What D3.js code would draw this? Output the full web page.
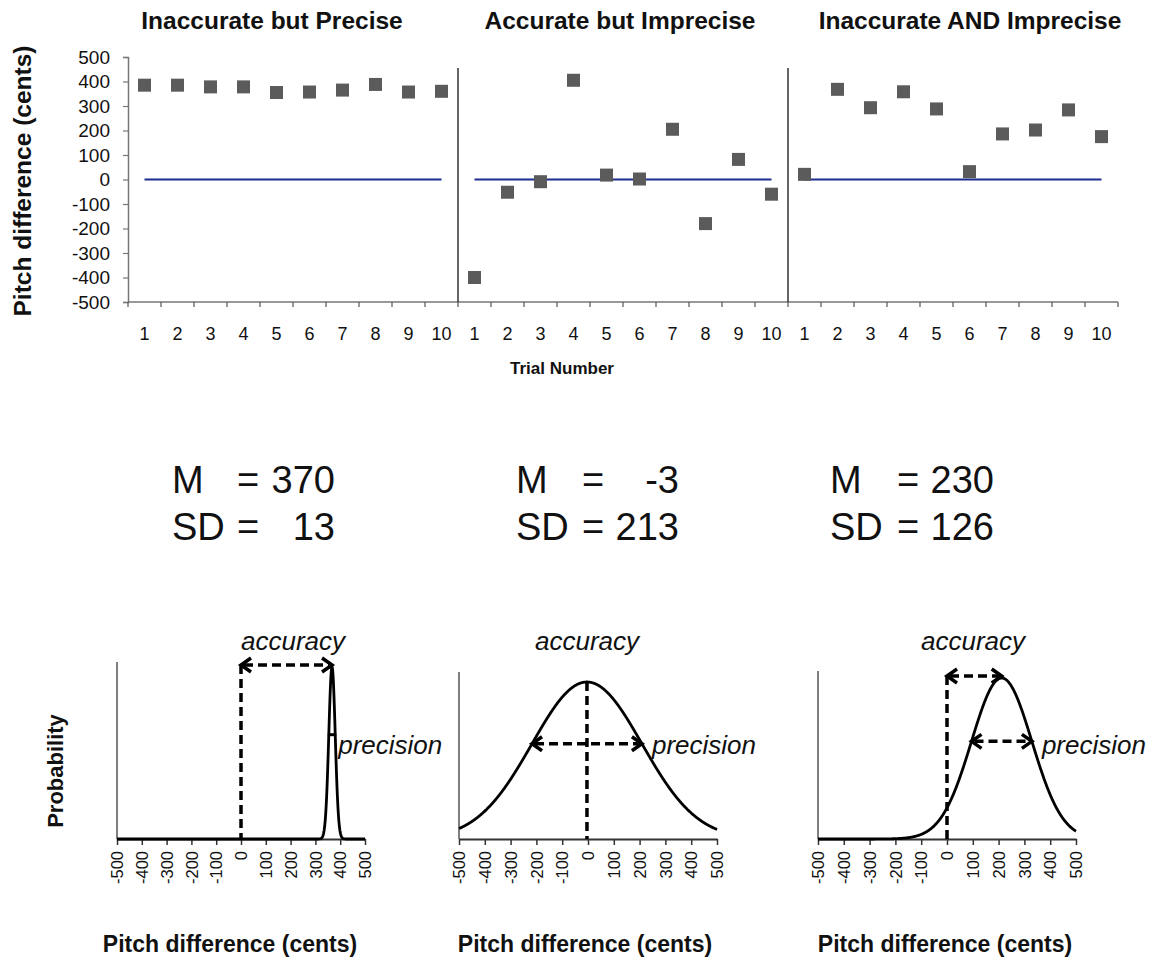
<!DOCTYPE html>
<html><head><meta charset="utf-8">
<script src="https://cdn.jsdelivr.net/npm/d3@7"></script>
<style>
body{margin:0;background:#fff}
text{font-family:"Liberation Sans",Arial,Helvetica,sans-serif;fill:#111}
</style>
</head><body>
<svg id="c" width="1151" height="963"></svg>
<script>
// ---------------- DATA ----------------
const panelTitles = ["Inaccurate but Precise", "Accurate but Imprecise", "Inaccurate AND Imprecise"];
const trials = [1, 2, 3, 4, 5, 6, 7, 8, 9, 10];
const precisePitch = [385, 385, 378, 378, 355, 357, 365, 388, 357, 360];
const accuratePitch = [-400, -52, -9, 405, 18, 2, 205, -180, 82, -60];
const inaccuratePitch = [21, 368, 293, 358, 288, 32, 186, 202, 284, 175];
const pitchTicksY = [500, 400, 300, 200, 100, 0, -100, -200, -300, -400, -500];
const meanLabels = ["370", "-3", "230"];
const sdLabels = ["13", "213", "126"];
const curveMean = [367, -4, 212];
const curveSD = [13, 213, 117];
const pitchTicksX = [-500, -400, -300, -200, -100, 0, 100, 200, 300, 400, 500];

const series = [precisePitch, accuratePitch, inaccuratePitch];

// ---------------- LAYOUT ----------------
const svg = d3.select("#c");
const topBox = {x0: 128, x1: 1118, y0: 302, y1: 57};
const keys = [];
series.forEach((s, p) => trials.forEach(t => keys.push(p + "-" + t)));
const x = d3.scaleBand().domain(keys).range([topBox.x0, topBox.x1]).padding(0);
const y = d3.scaleLinear().domain([-500, 500]).range([topBox.y0, topBox.y1]);
const fmt = d => String(d);

// titles
const titleX = [272, 620, 970];
svg.selectAll("text.ptitle").data(panelTitles).join("text")
  .attr("class", "ptitle").attr("x", (d, i) => titleX[i]).attr("y", 29)
  .attr("text-anchor", "middle").style("font-weight", "bold").style("font-size", "24.5px")
  .text(d => d);

// y axis
const yAx = svg.append("g").attr("transform", `translate(${topBox.x0},0)`)
  .call(d3.axisLeft(y).tickValues(pitchTicksY).tickFormat(fmt).tickSize(5).tickPadding(13));
yAx.select(".domain").attr("stroke", "#777").attr("stroke-width", 1.5);
yAx.selectAll(".tick line").attr("stroke", "#777").attr("stroke-width", 1.2);
yAx.selectAll(".tick text").style("font-size", "19px").attr("fill", "#111")
  .style("font-family", "'Liberation Sans',Arial,sans-serif");

// x axis line
svg.append("line").attr("x1", topBox.x0).attr("x2", topBox.x1).attr("y1", topBox.y0).attr("y2", topBox.y0)
  .attr("stroke", "#777").attr("stroke-width", 1.5);
// boundary ticks
const bounds = keys.map(k => x(k)).concat([topBox.x1]);
svg.selectAll("line.xt").data(bounds).join("line").attr("class", "xt")
  .attr("x1", d => d).attr("x2", d => d).attr("y1", topBox.y0).attr("y2", topBox.y0 + 5)
  .attr("stroke", "#555").attr("stroke-width", 1.2);
// tick labels
svg.selectAll("text.xl").data(keys).join("text").attr("class", "xl")
  .attr("x", d => x(d) + x.bandwidth() / 2).attr("y", 340)
  .attr("text-anchor", "middle").style("font-size", "18px")
  .text(d => d.split("-")[1]);
// separators
[1, 2].forEach(p => {
  const sx = x(p + "-1");
  svg.append("line").attr("x1", sx).attr("x2", sx).attr("y1", 68).attr("y2", topBox.y0)
    .attr("stroke", "#333").attr("stroke-width", 1.5);
});
// zero lines and markers
series.forEach((s, p) => {
  svg.append("line")
    .attr("x1", x(p + "-1") + x.bandwidth() / 2).attr("x2", x(p + "-10") + x.bandwidth() / 2)
    .attr("y1", y(0)).attr("y2", y(0)).attr("stroke", "#1d2d8f").attr("stroke-width", 2);
  svg.selectAll("rect.m" + p).data(s).join("rect").attr("class", "m" + p)
    .attr("x", (d, i) => x(p + "-" + trials[i]) + x.bandwidth() / 2 - 6.5)
    .attr("y", d => y(d) - 6.5).attr("width", 13).attr("height", 13).attr("fill", "#5b5b5b");
});
// axis titles
svg.append("text").attr("transform", "translate(31,181) rotate(-90)")
  .attr("text-anchor", "middle").style("font-weight", "bold").style("font-size", "24.5px")
  .text("Pitch difference (cents)");
svg.append("text").attr("x", 562).attr("y", 374).attr("text-anchor", "middle")
  .style("font-weight", "bold").style("font-size", "17px").text("Trial Number");

// ---------------- M / SD ----------------
const statPos = [{lx: 172, ex: 237, vx: 335}, {lx: 516, ex: 582, vx: 679}, {lx: 830, ex: 897, vx: 994}];
statPos.forEach((sp, i) => {
  const rows = [["M", meanLabels[i], 493], ["SD", sdLabels[i], 540]];
  rows.forEach(r => {
    const g = svg.append("g").style("font-size", "38px");
    g.append("text").attr("x", sp.lx).attr("y", r[2]).text(r[0]);
    g.append("text").attr("x", sp.ex).attr("y", r[2]).text("=");
    g.append("text").attr("x", sp.vx).attr("y", r[2]).attr("text-anchor", "end").text(r[1]);
  });
});

// ---------------- DISTRIBUTIONS ----------------
const bot = [
  {x0: 117, x1: 365, top: 662, peak: 667, acc: 293},
  {x0: 459, x1: 717, top: 672, peak: 682, acc: 587},
  {x0: 818, x1: 1076, top: 671, peak: 678, acc: 973}
];
const base = 839;
const botTitleX = [230, 585, 945];

function chevron(g, tx, ty, dir) {
  g.append("path")
    .attr("d", `M${tx - dir * 10},${ty - 7} L${tx},${ty} L${tx - dir * 10},${ty + 7}`)
    .attr("fill", "none").attr("stroke", "#000").attr("stroke-width", 3.5)
    .attr("stroke-linejoin", "miter");
}
function dashed(g, x1, y1, x2, y2) {
  g.append("line").attr("x1", x1).attr("y1", y1).attr("x2", x2).attr("y2", y2)
    .attr("stroke", "#000").attr("stroke-width", 3.5).attr("stroke-dasharray", "9,5");
}

bot.forEach((b, i) => {
  const g = svg.append("g");
  const bx = d3.scaleLinear().domain([-500, 500]).range([b.x0, b.x1]);
  const by = d3.scaleLinear().domain([0, 1]).range([base, b.peak]);
  const mu = curveMean[i], sd = curveSD[i];
  const pts = d3.range(-500, 500.01, 1).map(v => [v, Math.exp(-0.5 * ((v - mu) / sd) ** 2)]);

  // y axis
  g.append("line").attr("x1", b.x0).attr("x2", b.x0).attr("y1", b.top).attr("y2", base)
    .attr("stroke", "#555").attr("stroke-width", 1.5);
  // x axis
  const xa = g.append("g").attr("transform", `translate(0,${base})`)
    .call(d3.axisBottom(bx).tickValues(pitchTicksX).tickSize(6).tickSizeOuter(0).tickFormat(fmt));
  xa.select(".domain").attr("stroke", "#333").attr("stroke-width", 2);
  xa.selectAll(".tick line").attr("stroke", "#333").attr("stroke-width", 1.5);
  xa.selectAll(".tick text").attr("transform", "rotate(-90)")
    .attr("x", -12).attr("y", 0).attr("dy", "0.35em").attr("text-anchor", "end")
    .style("font-size", "16.5px").attr("fill", "#111")
    .style("font-family", "'Liberation Sans',Arial,sans-serif");

  // curve
  g.append("path").datum(pts)
    .attr("d", d3.line().x(d => bx(d[0])).y(d => by(d[1])))
    .attr("fill", "none").attr("stroke", "#000").attr("stroke-width", 2.8);

  // accuracy markers
  const zx = bx(0), mx = bx(mu);
  if (Math.abs(mx - zx) > 20) {
    const ay = b.peak - 2;
    dashed(g, zx, ay, zx, base);
    dashed(g, zx + 3, ay, mx - 3, ay);
    chevron(g, zx, ay, -1);
    chevron(g, mx, ay, 1);
  } else {
    dashed(g, mx, b.peak, mx, base);
  }
  // precision arrow
  const py = by(Math.exp(-0.5));
  const pl = bx(mu - sd), pr = bx(mu + sd);
  if (pr - pl > 30) {
    dashed(g, pl + 3, py, pr - 3, py);
    chevron(g, pl, py, -1);
    chevron(g, pr, py, 1);
  } else {
    g.append("line").attr("x1", pl - 1).attr("x2", pr + 1).attr("y1", py).attr("y2", py)
      .attr("stroke", "#000").attr("stroke-width", 3);
  }
  g.append("text").attr("x", pr + (pr - pl > 30 ? 10 : 3)).attr("y", 754)
    .style("font-style", "italic").style("font-size", "26px").text("precision");
  g.append("text").attr("x", b.acc).attr("y", 650).attr("text-anchor", "middle")
    .style("font-style", "italic").style("font-size", "26px").text("accuracy");

  // title
  svg.append("text").attr("x", botTitleX[i]).attr("y", 952).attr("text-anchor", "middle")
    .style("font-weight", "bold").style("font-size", "23px").text("Pitch difference (cents)");
});

svg.append("text").attr("transform", "translate(63,771) rotate(-90)")
  .attr("text-anchor", "middle").style("font-weight", "bold").style("font-size", "22px")
  .text("Probability");
</script>
</body></html>
